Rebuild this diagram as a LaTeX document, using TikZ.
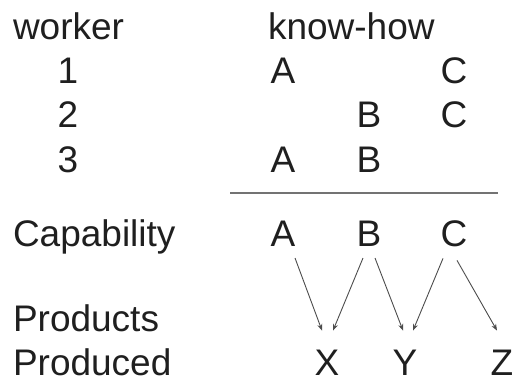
\documentclass[tikz,border=0pt]{standalone}
\usepackage{fontspec}
\setmainfont{Liberation Sans}
\usetikzlibrary{arrows.meta}
\begin{document}
\begin{tikzpicture}[x=1pt,y=-1pt,
  every node/.style={inner sep=0pt,outer sep=0pt,text=black!88,font=\fontsize{37}{44}\selectfont},
  lbl/.style={anchor=base west},
  cell/.style={anchor=base},
  arr/.style={draw=black!70,line width=0.9pt,-{Stealth[length=6.5pt,width=5pt]}},
  rule/.style={draw=black!55,line width=2pt}]
\useasboundingbox (0,0) rectangle (516,383);
% header
\node[lbl] (worker) at (13,39) {worker};
\node[lbl] (knowhow) at (268,39) {know-how};
% worker rows
\node[cell] (w1) at (68,83) {1};
\node[cell] (w2) at (68,127) {2};
\node[cell] (w3) at (68,172) {3};
\node[cell] (r1a) at (283,83) {A};
\node[cell] (r1c) at (454,83) {C};
\node[cell] (r2b) at (369,127) {B};
\node[cell] (r2c) at (454,127) {C};
\node[cell] (r3a) at (283,172) {A};
\node[cell] (r3b) at (369,172) {B};
% rule
\coordinate (ruleL) at (230,193);
\coordinate (ruleR) at (498,193);
\draw[rule] (ruleL) -- (ruleR);
% capability
\node[lbl] (cap) at (13,246) {Capability};
\node[cell] (cA) at (283,246) {A};
\node[cell] (cB) at (369,246) {B};
\node[cell] (cC) at (454,246) {C};
% products
\node[lbl] (prods) at (13,331) {Products};
\node[lbl] (prodd) at (13,375) {Produced};
\node[cell] (pX) at (327,375) {X};
\node[cell] (pY) at (405,375) {Y};
\node[cell] (pZ) at (502,375) {Z};
% arrows
\draw[arr] ([xshift=12pt,yshift=-12pt]cA.south) -- ([xshift=-5pt,yshift=19pt]pX.north);
\draw[arr] ([xshift=-6pt,yshift=-12pt]cB.south) -- ([xshift=6pt,yshift=19pt]pX.north);
\draw[arr] ([xshift=6pt,yshift=-12pt]cB.south) -- ([xshift=-2pt,yshift=19pt]pY.north);
\draw[arr] ([xshift=-11pt,yshift=-12pt]cC.south) -- ([xshift=8pt,yshift=19pt]pY.north);
\draw[arr] ([xshift=3pt,yshift=-14pt]cC.south) -- ([xshift=-5pt,yshift=19pt]pZ.north);
\end{tikzpicture}
\end{document}
